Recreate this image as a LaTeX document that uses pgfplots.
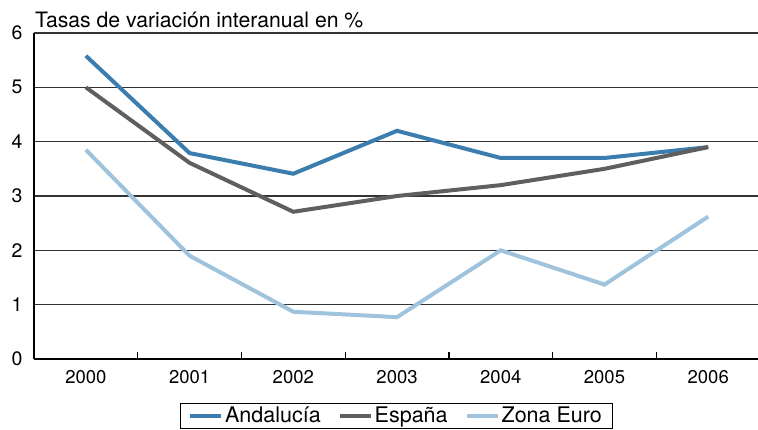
\documentclass[border=0pt]{standalone}
\usepackage{pgfplots}
\pgfplotsset{compat=1.18}
\usetikzlibrary{calc}
\usepackage{fontspec}
\setmainfont{TeX Gyre Heros}
\definecolor{andal}{HTML}{3A7DAE}
\definecolor{espana}{HTML}{5F5F5F}
\definecolor{zona}{HTML}{A0C3DD}
\begin{document}
\begin{tikzpicture}
\begin{axis}[
  name=ax,
  scale only axis,
  width=724pt, height=326pt,
  xmin=-0.5, xmax=6.48,
  ymin=0, ymax=6,
  axis x line*=bottom,
  axis y line*=left,
  axis line style={black, line width=1.3pt, -},
  xtick={0,...,6},
  xticklabels={2000,2001,2002,2003,2004,2005,2006},
  minor xtick={0.5,1.5,...,5.5},
  major tick length=0pt,
  minor tick length=7pt,
  tick align=inside,
  minor tick style={black, line width=1.2pt},
  ytick={0,...,6},
  ymajorgrids,
  grid style={color=black!80, line width=1.3pt},
  x tick label style={font=\fontsize{18.5}{20}\selectfont, yshift=-8pt},
  y tick label style={font=\fontsize{19.5}{21}\selectfont, xshift=-8pt},
  /pgf/number format/assume math mode=true,
  legend style={at={(0.5,-0.134)}, anchor=north, legend columns=3,
    draw=black, line width=0.8pt,
    font=\fontsize{21.5}{23}\selectfont,
    /tikz/every even column/.append style={column sep=15pt},
    inner xsep=8pt, inner ysep=2pt},
  legend image code/.code={\draw[#1, line width=4pt] (0pt,0pt) -- (31pt,0pt);},
]
\addplot[andal, line width=4pt] coordinates {(0,5.58) (1,3.79) (2,3.41) (3,4.2) (4,3.7) (5,3.7) (6,3.9)};
\addlegendentry{Andalucía}
\addplot[espana, line width=4pt] coordinates {(0,5.0) (1,3.61) (2,2.71) (3,3.0) (4,3.2) (5,3.5) (6,3.9)};
\addlegendentry{España}
\addplot[zona, line width=4pt] coordinates {(0,3.85) (1,1.9) (2,0.87) (3,0.77) (4,2.0) (5,1.37) (6,2.62)};
\addlegendentry{Zona Euro}
\end{axis}
\node[anchor=south west, inner sep=0pt, font=\fontsize{21.2}{23}\selectfont] at ($(ax.north west)+(1pt,5pt)$) {Tasas de variación interanual en \%};
\pgfresetboundingbox
\path[use as bounding box] (-34pt,-70pt) rectangle (724pt,359pt);
\end{tikzpicture}
\end{document}
